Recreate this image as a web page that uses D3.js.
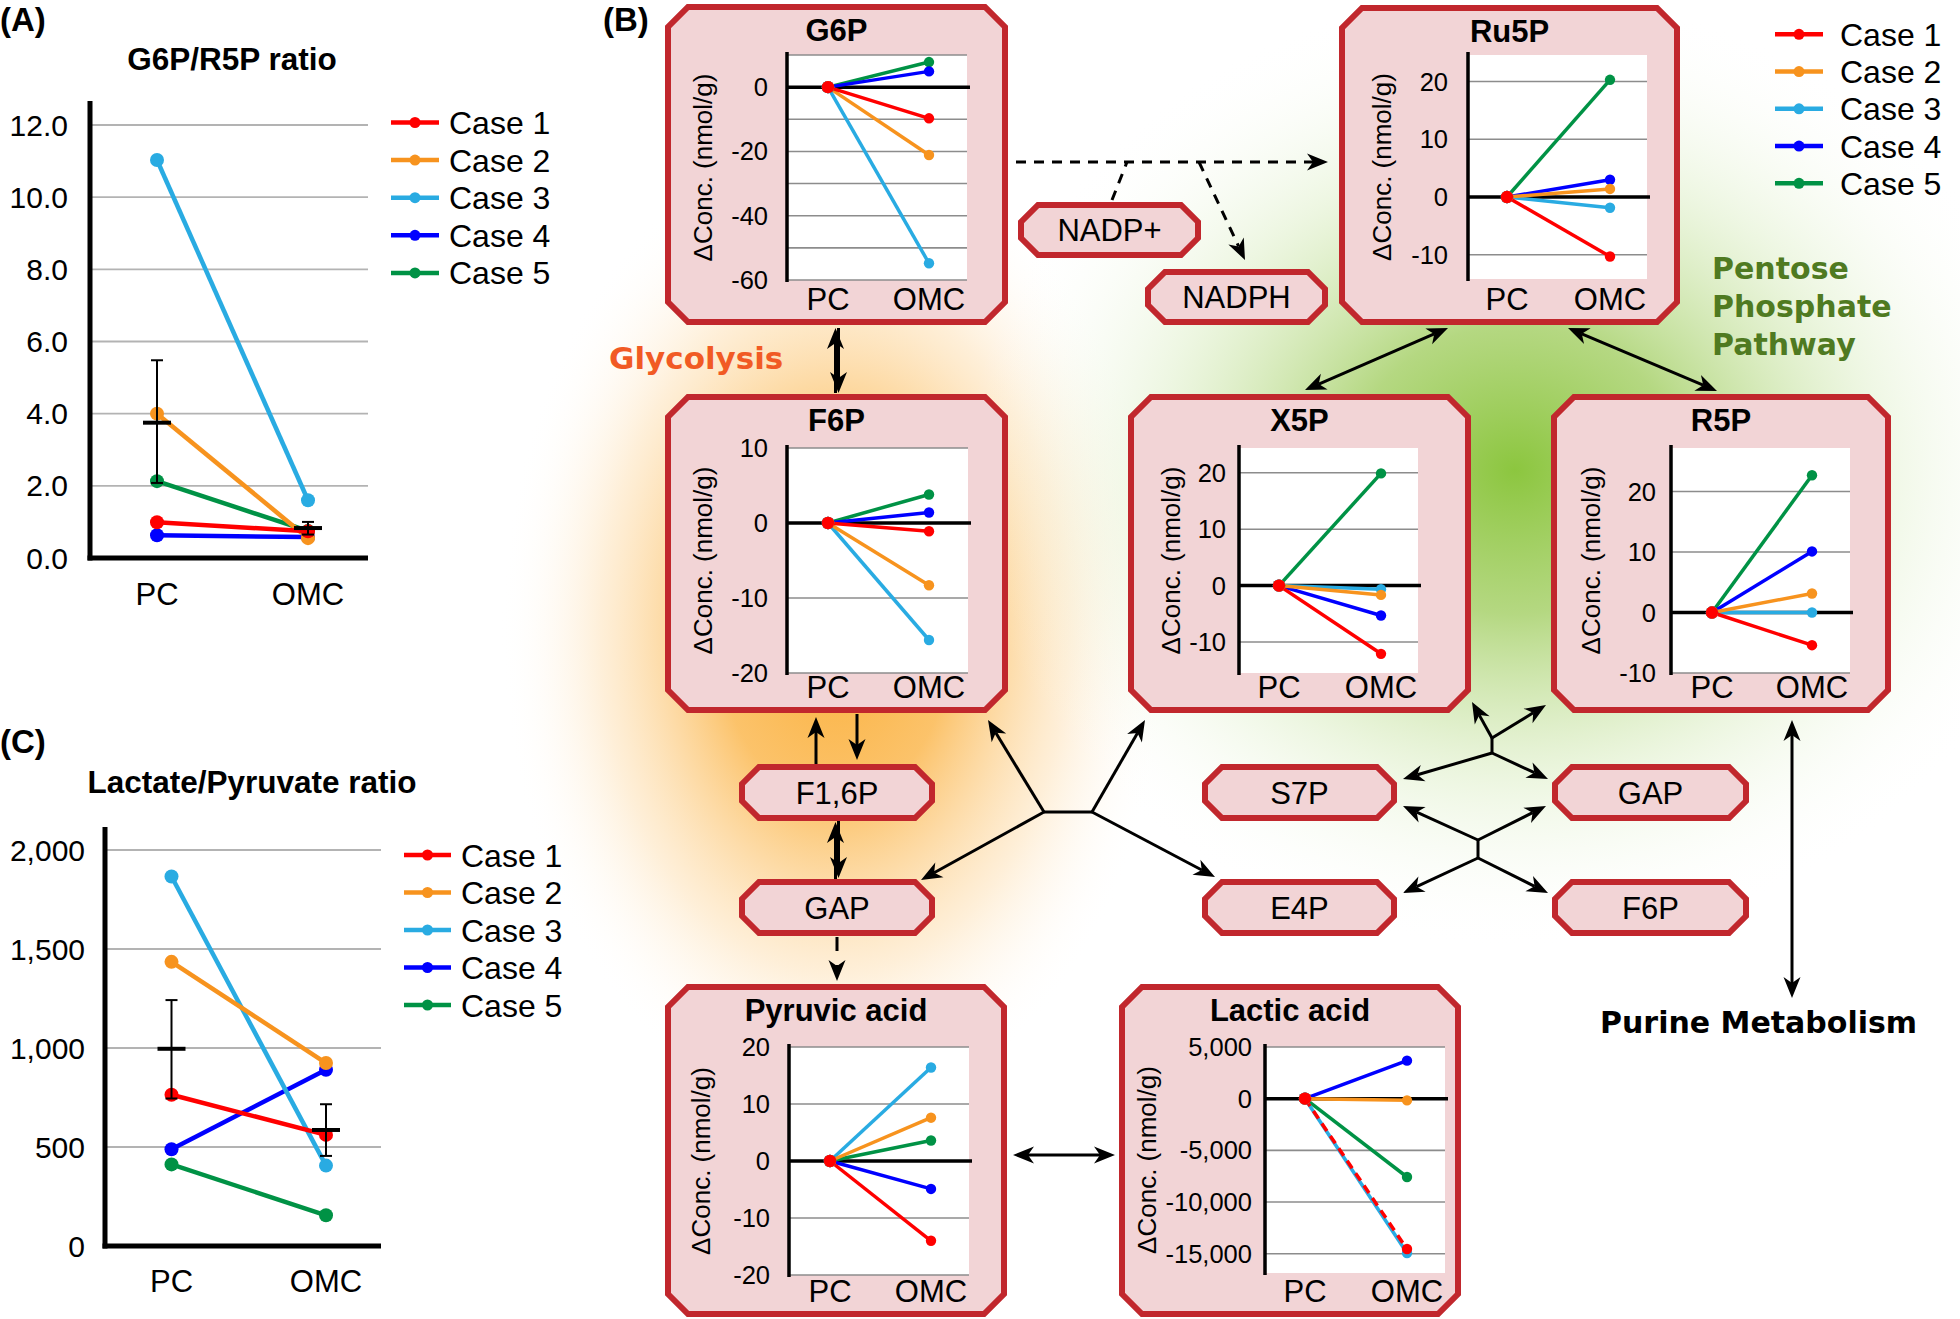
<!DOCTYPE html>
<html><head><meta charset="utf-8">
<script src="https://cdn.jsdelivr.net/npm/d3@7"></script>
<style>body{margin:0;background:#fff}svg{display:block}</style>
</head><body>
<svg id="c" width="1960" height="1319"></svg>
<script>
// ---------------- DATA ----------------
const cases = ["Case 1","Case 2","Case 3","Case 4","Case 5"];
const caseColors = ["#ff0000","#f7931e","#29abe2","#0000ff","#009245"];
const groups = ["PC","OMC"];

// (A) G6P/R5P ratio
const g6pR5pPC  = [0.99, 4.0, 11.03, 0.63, 2.13];
const g6pR5pOMC = [0.74, 0.55, 1.6, 0.58, 0.75];
const g6pR5pMean = [3.75, 0.83];
const g6pR5pErrLow = [2.08, 0.65];
const g6pR5pErrHigh = [5.48, 1.0];
const ticksA = [0, 2, 4, 6, 8, 10, 12];

// (C) Lactate/Pyruvate ratio
const lacPyrPC  = [764, 1435, 1866, 489, 412];
const lacPyrOMC = [561, 924, 406, 890, 155];
const lacPyrMean = [996, 586];
const lacPyrErrLow = [745, 455];
const lacPyrErrHigh = [1242, 716];
const ticksC = [0, 500, 1000, 1500, 2000];

// (B) change in concentration (PC baseline = 0)
const deltaPC = [0, 0, 0, 0, 0];
const g6pOMC  = [-9.7, -21.1, -54.8, 4.9, 7.8];
const ru5pOMC = [-10.3, 1.4, -1.85, 3.0, 20.3];
const f6pOMC  = [-1.1, -8.3, -15.6, 1.4, 3.8];
const x5pOMC  = [-12.1, -1.65, -0.65, -5.3, 19.9];
const r5pOMC  = [-5.4, 3.15, 0.0, 10.1, 22.7];
const pyrOMC  = [-14.0, 7.6, 16.4, -4.9, 3.6];
const lacOMC  = [-14548, -161, -14935, 3677, -7580];

const gridG6P = [-60,-50,-40,-30,-20,-10,0,10], ticksG6P = [-60,-40,-20,0];
const gridRu5P = [-10,0,10,20], ticksRu5P = [-10,0,10,20];
const gridF6P = [-20,-10,0,10], ticksF6P = [-20,-10,0,10];
const gridX5P = [-10,0,10,20], ticksX5P = [-10,0,10,20];
const gridR5P = [-10,0,10,20], ticksR5P = [-10,0,10,20];
const gridPyr = [-20,-10,0,10,20], ticksPyr = [-20,-10,0,10,20];
const gridLac = [-15000,-10000,-5000,0,5000], ticksLac = [-15000,-10000,-5000,0,5000];

// ---------------- STYLE ----------------
const F = "'Liberation Sans', Arial, Helvetica, sans-serif";
const FH = "'DejaVu Sans', 'Liberation Sans', sans-serif";
const BOXFILL = "#f2d4d6", BOXSTROKE = "#c1272d";
const loc = d3.formatLocale({decimal:".", thousands:",", grouping:[3], currency:["",""], minus:"-"});
const fmtInt = loc.format(",");
const fmt1 = loc.format(".1f");

const svg = d3.select("#c");
const defs = svg.append("defs");
function radial(id, stops){
  const g = defs.append("radialGradient").attr("id", id);
  stops.forEach(s => g.append("stop").attr("offset", s[0]).attr("stop-color", s[1]).attr("stop-opacity", s[2]));
}
radial("gOr", [[0,"#fbb03b",1],[0.35,"#fbb850",0.85],[0.7,"#fdd9a3",0.42],[1,"#ffffff",0]]);
radial("gGr", [[0,"#8cc63f",1],[0.3,"#a2ce62",0.8],[0.65,"#d2e9b4",0.4],[1,"#ffffff",0]]);
svg.append("ellipse").attr("cx",835).attr("cy",630).attr("rx",335).attr("ry",490).attr("fill","url(#gOr)");
svg.append("ellipse").attr("cx",1515).attr("cy",470).attr("rx",550).attr("ry",480).attr("fill","url(#gGr)");

function octPath(x0,y0,x1,y1,c){
  return `M${x0+c},${y0}H${x1-c}L${x1},${y0+c}V${y1-c}L${x1-c},${y1}H${x0+c}L${x0},${y1-c}V${y0+c}Z`;
}
function txt(g, x, y, s, size, opt={}){
  return g.append("text").attr("x",x).attr("y",y).text(s)
    .attr("font-family", opt.family || F).attr("font-size", size)
    .attr("font-weight", opt.weight || "normal")
    .attr("text-anchor", opt.anchor || "start")
    .attr("fill", opt.fill || "#000");
}

// ---------------- ARROWS ----------------
const ga = svg.append("g");
function arrow(x1,y1,x2,y2,opt={}){
  const L=21, W=8.5, N=6;
  const dx=x2-x1, dy=y2-y1, len=Math.hypot(dx,dy), ux=dx/len, uy=dy/len, nx=-uy, ny=ux;
  let sx=x1, sy=y1, ex=x2, ey=y2;
  const heads=[];
  if(opt.end){ ex=x2-(L-N)*ux; ey=y2-(L-N)*uy; heads.push([x2,y2,ux,uy]); }
  if(opt.start){ sx=x1+(L-N)*ux; sy=y1+(L-N)*uy; heads.push([x1,y1,-ux,-uy]); }
  const ln = ga.append("line").attr("x1",sx).attr("y1",sy).attr("x2",ex).attr("y2",ey)
    .attr("stroke","#000").attr("stroke-width",3);
  if(opt.dash) ln.attr("stroke-dasharray",opt.dash);
  heads.forEach(([tx,ty,vx,vy])=>{
    const bx=tx-L*vx, by=ty-L*vy, mx=tx-(L-N)*vx, my=ty-(L-N)*vy;
    ga.append("path").attr("d",`M${tx},${ty}L${bx+W*nx},${by+W*ny}L${mx},${my}L${bx-W*nx},${by-W*ny}Z`).attr("fill","#000");
  });
}
// NADP+ / NADPH dashed
arrow(1016,162,1328,162,{end:true,dash:"10,8"});
arrow(1112,200,1127,162,{dash:"10,8"});
arrow(1199,162,1245,260,{end:true,dash:"10,8"});
// G6P <-> F6P
arrow(835.5,393,835.5,328,{end:true});
arrow(838.5,328,838.5,393,{end:true});
// F6P <-> F1,6P
arrow(816,764,816,717,{end:true});
arrow(857,714,857,760,{end:true});
// F1,6P <-> GAP
arrow(835.5,879,835.5,822,{end:true});
arrow(838.5,821,838.5,878,{end:true});
// GAP -> Pyruvic
arrow(837,937,837,981,{end:true,dash:"14,14"});
// central junction
ga.append("line").attr("x1",1044).attr("y1",812).attr("x2",1092).attr("y2",812).attr("stroke","#000").attr("stroke-width",3);
arrow(1044,812,988,720,{end:true});
arrow(1044,812,921,880,{end:true});
arrow(1092,812,1145,720,{end:true});
arrow(1092,812,1215,877,{end:true});
// right upper cluster
ga.append("line").attr("x1",1492).attr("y1",737).attr("x2",1492).attr("y2",754).attr("stroke","#000").attr("stroke-width",3);
arrow(1492,738,1472,702,{end:true});
arrow(1492,738,1546,705,{end:true});
arrow(1492,753,1403,779,{end:true});
arrow(1492,753,1548,779,{end:true});
// right lower cluster
ga.append("line").attr("x1",1478).attr("y1",839).attr("x2",1478).attr("y2",859).attr("stroke","#000").attr("stroke-width",3);
arrow(1478,840,1403,806,{end:true});
arrow(1478,840,1546,806,{end:true});
arrow(1478,858,1403,893,{end:true});
arrow(1478,858,1548,893,{end:true});
// Ru5P <-> X5P, R5P
arrow(1448,328,1305,390,{start:true,end:true});
arrow(1568,328,1717,391,{start:true,end:true});
// R5P <-> purine
arrow(1792,720,1792,998,{start:true,end:true});
// pyruvic <-> lactic
arrow(1013,1155,1115,1155,{start:true,end:true});

// ---------------- SMALL LABEL BOXES ----------------
const labelBoxes = [
  ["NADP+",1018,202,1201,258],["NADPH",1145,269,1328,325],
  ["F1,6P",739,764,935,821],["GAP",739,879,935,936],
  ["S7P",1202,764,1397,821],["GAP",1552,764,1749,821],
  ["E4P",1202,879,1397,936],["F6P",1552,879,1749,936]
];
labelBoxes.forEach(([s,x0,y0,x1,y1])=>{
  svg.append("path").attr("d",octPath(x0+3,y0+3,x1-3,y1-3,17)).attr("fill",BOXFILL).attr("stroke",BOXSTROKE).attr("stroke-width",6);
  txt(svg,(x0+x1)/2,(y0+y1)/2+11,s,31,{anchor:"middle"});
});

// ---------------- MINI CHARTS ----------------
function mini(cfg, pcVals, omcVals){
  const g = svg.append("g");
  const [bx0,by0,bx1,by1] = cfg.box;
  g.append("path").attr("d",octPath(bx0+3,by0+3,bx1-3,by1-3,20)).attr("fill",BOXFILL).attr("stroke",BOXSTROKE).attr("stroke-width",6);
  const y = d3.scaleLinear().domain(cfg.domain).range([cfg.y1, cfg.y0]);
  const x = d3.scalePoint().domain(groups).range([cfg.pc, cfg.omc]);
  g.append("rect").attr("x",cfg.x0).attr("y",cfg.y0).attr("width",cfg.x1-cfg.x0).attr("height",cfg.y1-cfg.y0).attr("fill","#fff");
  cfg.grid.forEach(v=>{ if(v!==0) g.append("line").attr("x1",cfg.x0).attr("x2",cfg.x1).attr("y1",y(v)).attr("y2",y(v)).attr("stroke","#8c8c8c").attr("stroke-width",1.6); });
  g.append("line").attr("x1",cfg.x0).attr("x2",cfg.x1+3).attr("y1",y(0)).attr("y2",y(0)).attr("stroke","#000").attr("stroke-width",3.5);
  g.append("line").attr("x1",cfg.x0).attr("x2",cfg.x0).attr("y1",cfg.y0-3).attr("y2",cfg.y1+2).attr("stroke","#000").attr("stroke-width",3.5);
  cfg.ticks.forEach(v=> txt(g,cfg.x0-cfg.gap,y(v),fmtInt(v),25.5,{anchor:"end"}).attr("dominant-baseline","central"));
  const cy=(cfg.y0+cfg.y1)/2;
  txt(g,0,0,"ΔConc. (nmol/g)",26,{anchor:"middle"}).attr("dominant-baseline","central")
    .attr("transform",`translate(${cfg.ylab},${cy}) rotate(-90)`);
  groups.forEach(k=> txt(g,x(k),by1-15,k,31,{anchor:"middle"}));
  txt(g,(bx0+bx1)/2,by0+37,cfg.title,31,{anchor:"middle",weight:"bold"});
  const order=[4,3,2,1,0];
  order.forEach(i=>{
    const ln = g.append("line").attr("x1",x("PC")).attr("y1",y(pcVals[i])).attr("x2",x("OMC")).attr("y2",y(omcVals[i]))
      .attr("stroke",caseColors[i]).attr("stroke-width",3.5);
    if(cfg.dashed && cfg.dashed.includes(i)) ln.attr("stroke-dasharray","9,6");
    g.append("circle").attr("cx",x("OMC")).attr("cy",y(omcVals[i])).attr("r",5.2).attr("fill",caseColors[i]);
  });
  order.forEach(i=> g.append("circle").attr("cx",x("PC")).attr("cy",y(pcVals[i])).attr("r",6.2).attr("fill",caseColors[i]));
}
mini({box:[665,4,1008,325],x0:787,x1:967,y0:55,y1:280,pc:828,omc:929,domain:[-60,10],grid:gridG6P,ticks:ticksG6P,title:"G6P",ylab:703,gap:19}, deltaPC, g6pOMC);
mini({box:[1339,5,1680,325],x0:1468,x1:1647,y0:55,y1:279,pc:1507,omc:1610,domain:[-14.2,24.6],grid:gridRu5P,ticks:ticksRu5P,title:"Ru5P",ylab:1382,gap:20}, deltaPC, ru5pOMC);
mini({box:[665,394,1008,713],x0:787,x1:968,y0:448,y1:673,pc:828,omc:929,domain:[-20,10],grid:gridF6P,ticks:ticksF6P,title:"F6P",ylab:703,gap:19}, deltaPC, f6pOMC);
mini({box:[1128,394,1471,713],x0:1239,x1:1418,y0:448,y1:673,pc:1279,omc:1381,domain:[-15.5,24.4],grid:gridX5P,ticks:ticksX5P,title:"X5P",ylab:1171,gap:13}, deltaPC, x5pOMC);
mini({box:[1551,394,1891,713],x0:1671,x1:1850,y0:448,y1:673,pc:1712,omc:1812,domain:[-10,27.2],grid:gridR5P,ticks:ticksR5P,title:"R5P",ylab:1591,gap:15}, deltaPC, r5pOMC);
mini({box:[665,984,1007,1317],x0:789,x1:969,y0:1047,y1:1275,pc:830,omc:931,domain:[-20,20],grid:gridPyr,ticks:ticksPyr,title:"Pyruvic acid",ylab:701,gap:19}, deltaPC, pyrOMC);
mini({box:[1119,984,1461,1317],x0:1265,x1:1445,y0:1047,y1:1273,pc:1305,omc:1407,domain:[-16870,5000],grid:gridLac,ticks:ticksLac,title:"Lactic acid",ylab:1147,gap:13,dashed:[0]}, deltaPC, lacOMC);

// ---------------- RATIO PANELS ----------------
function legend(g, lx0, lx1, tx, y0, step){
  cases.forEach((c,i)=>{
    const yy = y0 + i*step;
    g.append("line").attr("x1",lx0).attr("x2",lx1).attr("y1",yy).attr("y2",yy).attr("stroke",caseColors[i]).attr("stroke-width",4.5);
    g.append("circle").attr("cx",(lx0+lx1)/2).attr("cy",yy).attr("r",5.5).attr("fill",caseColors[i]);
    txt(g,tx,yy+11.5,c,32);
  });
}
function ratioPanel(cfg, pcVals, omcVals, mean, lo, hi, ticks, fmt){
  const g = svg.append("g");
  const y = d3.scaleLinear().domain([0, ticks[ticks.length-1]]).range([cfg.yZero, cfg.yTop]);
  const x = d3.scalePoint().domain(groups).range([cfg.pc, cfg.omc]);
  ticks.forEach(v=>{
    if(v!==0) g.append("line").attr("x1",cfg.ax).attr("x2",cfg.gr).attr("y1",y(v)).attr("y2",y(v)).attr("stroke","#b3b3b3").attr("stroke-width",1.8);
    txt(g,cfg.tr,y(v),fmt(v),30,{anchor:"end"}).attr("dominant-baseline","central");
  });
  g.append("line").attr("x1",cfg.ax).attr("x2",cfg.ax).attr("y1",cfg.axTop).attr("y2",y(0)+2.5).attr("stroke","#000").attr("stroke-width",5);
  g.append("line").attr("x1",cfg.ax-2.5).attr("x2",cfg.gr).attr("y1",y(0)).attr("y2",y(0)).attr("stroke","#000").attr("stroke-width",5);
  groups.forEach(k=> txt(g,x(k),cfg.xlb,k,31,{anchor:"middle"}));
  txt(g,cfg.tx,cfg.ty,cfg.title,31.5,{anchor:"middle",weight:"bold"});
  txt(g,0,cfg.lblY,cfg.label,33,{weight:"bold"});
  const order=[4,3,2,1,0];
  order.forEach(i=> g.append("line").attr("x1",x("PC")).attr("y1",y(pcVals[i])).attr("x2",x("OMC")).attr("y2",y(omcVals[i])).attr("stroke",caseColors[i]).attr("stroke-width",4.5));
  order.forEach(i=>{
    g.append("circle").attr("cx",x("PC")).attr("cy",y(pcVals[i])).attr("r",7).attr("fill",caseColors[i]);
    g.append("circle").attr("cx",x("OMC")).attr("cy",y(omcVals[i])).attr("r",7).attr("fill",caseColors[i]);
  });
  groups.forEach((k,j)=>{
    const cx=x(k);
    g.append("line").attr("x1",cx).attr("x2",cx).attr("y1",y(lo[j])).attr("y2",y(hi[j])).attr("stroke","#000").attr("stroke-width",2);
    [lo[j],hi[j]].forEach(v=> g.append("line").attr("x1",cx-6).attr("x2",cx+6).attr("y1",y(v)).attr("y2",y(v)).attr("stroke","#000").attr("stroke-width",2));
    g.append("line").attr("x1",cx-14).attr("x2",cx+14).attr("y1",y(mean[j])).attr("y2",y(mean[j])).attr("stroke","#000").attr("stroke-width",4);
  });
  legend(g, cfg.lx0, cfg.lx1, cfg.ltx, cfg.ly0, cfg.lstep);
}
ratioPanel({ax:90,gr:368,yZero:558,yTop:125,axTop:101,tr:68,pc:157,omc:308,xlb:605,tx:232,ty:70,title:"G6P/R5P ratio",label:"(A)",lblY:31,
  lx0:391,lx1:439,ltx:449,ly0:122.5,lstep:37.6}, g6pR5pPC, g6pR5pOMC, g6pR5pMean, g6pR5pErrLow, g6pR5pErrHigh, ticksA, fmt1);
ratioPanel({ax:105,gr:381,yZero:1246,yTop:850,axTop:827,tr:85,pc:171.5,omc:326,xlb:1292,tx:252,ty:793,title:"Lactate/Pyruvate ratio",label:"(C)",lblY:753,
  lx0:404,lx1:451,ltx:461,ly0:855,lstep:37.5}, lacPyrPC, lacPyrOMC, lacPyrMean, lacPyrErrLow, lacPyrErrHigh, ticksC, fmtInt);

// ---------------- PANEL B TEXT ----------------
txt(svg,603,31,"(B)",33,{weight:"bold"});
legend(svg,1775,1823,1840,34.3,37.25);
txt(svg,609,369,"Glycolysis",31,{family:FH,weight:"bold",fill:"#f15a24"});
txt(svg,1712,279,"Pentose",30,{family:FH,weight:"bold",fill:"#4f7a21"});
txt(svg,1712,317,"Phosphate",30,{family:FH,weight:"bold",fill:"#4f7a21"});
txt(svg,1712,355,"Pathway",30,{family:FH,weight:"bold",fill:"#4f7a21"});
txt(svg,1600,1033,"Purine Metabolism",30,{family:FH,weight:"bold"});
</script>
</body></html>
